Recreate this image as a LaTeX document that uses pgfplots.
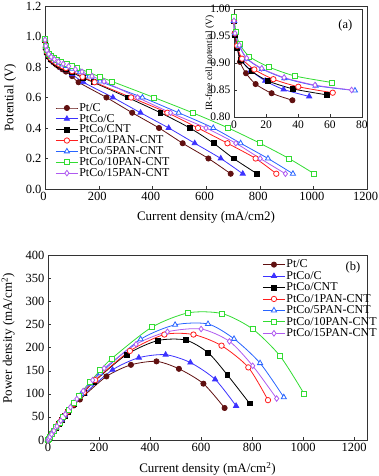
\documentclass[border=0pt]{standalone}
\usepackage{fontspec}
\setmainfont{Liberation Serif}
\usepackage{pgfplots}
\pgfplotsset{compat=1.18}

\definecolor{cPtC}{RGB}{96,16,16}
\definecolor{cPtCoC}{RGB}{60,50,255}
\definecolor{c1PAN}{RGB}{255,30,30}
\definecolor{c5PAN}{RGB}{40,100,255}
\definecolor{c10PAN}{RGB}{50,220,50}
\definecolor{c15PAN}{RGB}{175,90,240}

\pgfplotsset{
  base/.style={line width=0.8pt, smooth, tension=0.45},
  sPtC/.style={base, cPtC, mark=*, mark size=2.6pt, mark options={solid, fill=cPtC}},
  sPtCoC/.style={base, cPtCoC, mark=triangle*, mark size=3pt, mark options={solid, fill=cPtCoC}},
  sCNT/.style={base, black, mark=square*, mark size=2.4pt, mark options={solid, fill=black}},
  s1PAN/.style={base, c1PAN, mark=*, mark size=2.7pt, mark options={solid, fill=white}},
  s5PAN/.style={base, c5PAN, mark=triangle*, mark size=3pt, mark options={solid, fill=white}},
  s10PAN/.style={base, c10PAN, mark=square*, mark size=2.5pt, mark options={solid, fill=white}},
  s15PAN/.style={base, c15PAN, mark=diamond*, mark size=2.8pt, mark options={solid, fill=white}},
  frame/.style={
    scale only axis, clip=false,
    axis line style={black!80},
    tick align=inside, xtick pos=bottom, ytick pos=left,
    major tick length=3pt,
    tick style={black!80},
    label style={font=\fontsize{13}{15}\selectfont},
    tick label style={font=\fontsize{12.5}{14}\selectfont},
    /pgf/number format/assume math mode=true,
    /pgf/number format/1000 sep={},
    legend image code/.code={\draw[mark repeat=2,mark phase=2,#1] plot coordinates {(0pt,0pt) (11pt,0pt) (22pt,0pt)};},
  },
}

\begin{document}
\begin{tikzpicture}
\path[use as bounding box] (0,0) rectangle (378pt,476pt);

% (a) polarisation curves
\begin{axis}[frame,
  at={(45pt,287pt)}, anchor=south west,
  width=322pt, height=183pt,
  xmin=0, xmax=1200, ymin=0, ymax=1.2,
  xtick={0,200,...,1200}, ytick={0,0.2,...,1.2},
  xticklabel style={xshift=-1.5pt},
  yticklabel style={/pgf/number format/.cd, fixed, fixed zerofill, precision=1},
  xlabel={Current density (mA/cm2)},
  ylabel={Potential (V)},
  xlabel style={at={(axis description cs:0.5,-0.155)}, anchor=center},
  ylabel style={at={(axis description cs:-0.108,0.5)}, anchor=center},
  legend cell align=left,
  legend style={draw=none, fill=none, at={(axis description cs:0.032,0.475)}, anchor=north west,
    font=\fontsize{12}{14}\selectfont, inner sep=0pt, row sep=-0.6pt, nodes={inner sep=1pt}},
]
\addplot[sPtC] coordinates {(0,0.975) (3,0.92) (7,0.89) (14,0.865) (22,0.845) (32,0.83) (42,0.815) (53,0.80) (65,0.785) (78,0.77) (101,0.74) (125,0.70) (229,0.60) (325,0.50) (425,0.40) (513,0.30) (609,0.20) (692,0.10)};
\addlegendentry{Pt/C}
\addplot[sPtCoC] coordinates {(0,0.975) (3,0.925) (7,0.895) (14,0.87) (22,0.85) (32,0.835) (42,0.82) (53,0.806) (65,0.792) (78,0.778) (101,0.752) (143,0.70) (253,0.60) (356,0.50) (461,0.40) (558,0.30) (655,0.20) (737,0.10)};
\addlegendentry{PtCo/C}
\addplot[sCNT] coordinates {(0,0.975) (3,0.928) (7,0.898) (14,0.873) (22,0.853) (32,0.838) (42,0.824) (53,0.811) (65,0.798) (78,0.786) (101,0.765) (140,0.73) (180,0.70) (308,0.60) (430,0.50) (540,0.40) (628,0.30) (703,0.20) (790,0.10)};
\addlegendentry{PtCo/CNT}
\addplot[s1PAN] coordinates {(0,0.975) (3,0.93) (7,0.90) (14,0.876) (22,0.857) (32,0.842) (42,0.829) (53,0.817) (65,0.805) (78,0.793) (101,0.773) (140,0.735) (185,0.70) (321,0.60) (456,0.50) (570,0.40) (680,0.30) (785,0.20) (862,0.10)};
\addlegendentry{PtCo/1PAN-CNT}
\addplot[s5PAN] coordinates {(0,0.978) (3,0.936) (7,0.907) (14,0.882) (22,0.865) (32,0.851) (42,0.839) (53,0.828) (65,0.817) (78,0.806) (101,0.788) (130,0.765) (165,0.738) (205,0.705) (363,0.60) (498,0.50) (627,0.40) (729,0.30) (831,0.20) (924,0.10)};
\addlegendentry{PtCo/5PAN-CNT}
\addplot[s10PAN] coordinates {(0,0.985) (3,0.94) (7,0.912) (14,0.888) (22,0.87) (32,0.857) (45,0.845) (60,0.833) (80,0.82) (100,0.81) (120,0.795) (163,0.765) (205,0.735) (250,0.705) (406,0.60) (550,0.50) (683,0.40) (801,0.30) (909,0.20) (1003,0.10)};
\addlegendentry{PtCo/10PAN-CNT}
\addplot[s15PAN] coordinates {(0,0.978) (3,0.938) (7,0.91) (14,0.885) (23,0.866) (35,0.85) (50,0.835) (68,0.82) (88,0.805) (113,0.785) (138,0.768) (175,0.74) (220,0.705) (345,0.60) (468,0.50) (600,0.40) (711,0.30) (802,0.20) (896,0.10)};
\addlegendentry{PtCo/15PAN-CNT}
\end{axis}

% inset: IR-free cell potential
\begin{axis}[frame,
  at={(234pt,359pt)}, anchor=south west,
  width=128pt, height=108pt,
  axis background/.style={fill=white},
  xmin=0, xmax=80, ymin=0.8, ymax=1.0,
  xtick={0,20,...,80}, ytick={0.80,0.85,0.90,0.95,1.00},
  tick label style={font=\fontsize{11.5}{13}\selectfont},
  yticklabel style={/pgf/number format/.cd, fixed, fixed zerofill, precision=2},
  ylabel={IR-free cell potential (V)},
  ylabel style={font=\fontsize{9.5}{11}\selectfont, at={(axis description cs:-0.19,0.5)}, anchor=center},
]
\addplot[sPtC] coordinates {(0,0.978) (0.4,0.955) (2,0.93) (3.75,0.902) (7.5,0.881) (13.5,0.861) (23.5,0.844) (36.5,0.831)};
\addplot[sPtCoC] coordinates {(0,0.978) (0.5,0.953) (2,0.928) (4.8,0.904) (10.5,0.886) (19.5,0.867) (31,0.851) (47,0.838)};
\addplot[sCNT] coordinates {(0,0.978) (0.5,0.952) (2,0.928) (4.5,0.905) (11,0.885) (21,0.867) (37,0.852) (58,0.841)};
\addplot[s1PAN] coordinates {(0,0.978) (0.6,0.955) (2,0.932) (5,0.908) (12.7,0.888) (24.6,0.870) (40.2,0.856) (61.7,0.845)};
\addplot[s5PAN] coordinates {(0,0.978) (0.6,0.955) (3.3,0.932) (8,0.908) (17.5,0.889) (31.5,0.872) (51,0.858) (75.6,0.849)};
\addplot[s10PAN] coordinates {(0,0.985) (1.2,0.958) (3.5,0.935) (9.6,0.912) (21.5,0.893) (38,0.876) (61,0.864)};
\addplot[s15PAN] coordinates {(0,0.978) (0.6,0.955) (3.3,0.933) (7.9,0.909) (17.3,0.890) (31.3,0.873) (50.6,0.859) (73.5,0.850)};
\node[font=\fontsize{12.5}{14}\selectfont] at (axis description cs:0.87,0.85) {(a)};
\end{axis}

% (b) power density
\begin{axis}[frame,
  at={(48pt,36pt)}, anchor=south west,
  width=319pt, height=185pt,
  xmin=0, xmax=1250, ymin=0, ymax=400,
  xtick={0,200,...,1200}, ytick={0,50,...,400},
  xlabel={Current density (mA/cm\textsuperscript{2})},
  ylabel={Power density (mA/cm\textsuperscript{2})},
  xlabel style={at={(axis description cs:0.5,-0.157)}, anchor=center},
  ylabel style={at={(axis description cs:-0.125,0.55)}, anchor=center},
  legend cell align=left,
  legend style={draw=none, fill=none, at={(axis description cs:0.672,0.98)}, anchor=north west,
    font=\fontsize{12}{14}\selectfont, inner sep=0pt, row sep=0pt, nodes={inner sep=1pt}},
]
\addplot[sPtC] coordinates {(0,0) (3,2.76) (7,6.23) (14,12.11) (22,18.59) (32,26.56) (42,34.23) (53,42.4) (65,51.03) (78,60.06) (101,74.74) (125,87.5) (229,137.4) (325,162.5) (425,170) (513,153.9) (609,121.8) (692,69.2)};
\addlegendentry{Pt/C}
\addplot[sPtCoC] coordinates {(0,0) (3,2.78) (7,6.27) (14,12.18) (22,18.7) (32,26.72) (42,34.44) (53,42.72) (65,51.48) (78,60.68) (101,75.95) (143,100.1) (253,151.8) (356,178) (461,184.4) (558,167.4) (655,131) (737,73.7)};
\addlegendentry{PtCo/C}
\addplot[sCNT] coordinates {(0,0) (3,2.78) (7,6.29) (14,12.22) (22,18.77) (32,26.82) (42,34.61) (53,42.98) (65,51.87) (78,61.31) (101,77.27) (140,102.2) (180,126) (308,184.8) (430,215) (540,216) (628,188.4) (703,140.6) (790,79)};
\addlegendentry{PtCo/CNT}
\addplot[s1PAN] coordinates {(0,0) (3,2.79) (7,6.3) (14,12.26) (22,18.85) (32,26.94) (42,34.82) (53,43.3) (65,52.33) (78,61.85) (101,78.07) (140,102.9) (185,129.5) (321,192.6) (456,228) (570,228) (680,204) (785,157) (862,86.2)};
\addlegendentry{PtCo/1PAN-CNT}
\addplot[s5PAN] coordinates {(0,0) (3,2.81) (7,6.35) (14,12.35) (22,19.03) (32,27.23) (42,35.24) (53,43.88) (65,53.11) (78,62.87) (101,79.59) (130,99.45) (165,121.8) (205,144.5) (363,217.8) (498,249) (627,250.8) (729,218.7) (831,166.2) (924,92.4)};
\addlegendentry{PtCo/5PAN-CNT}
\addplot[s10PAN] coordinates {(0,0) (3,2.82) (7,6.38) (14,12.43) (22,19.14) (32,27.42) (45,38.03) (60,49.98) (80,65.6) (100,81) (120,95.4) (163,124.7) (205,150.7) (250,176.3) (406,243.6) (550,275) (683,273.2) (801,240.3) (909,181.8) (1003,100.3)};
\addlegendentry{PtCo/10PAN-CNT}
\addplot[s15PAN] coordinates {(0,0) (3,2.81) (7,6.37) (14,12.39) (23,19.92) (35,29.75) (50,41.75) (68,55.76) (88,70.84) (113,88.7) (138,106) (175,129.5) (220,155.1) (345,207) (468,234) (600,240) (711,213.3) (802,160.4) (896,89.6)};
\addlegendentry{PtCo/15PAN-CNT}
\node[font=\fontsize{12.5}{14}\selectfont] at (axis description cs:0.956,0.935) {(b)};
\end{axis}
\end{tikzpicture}
\end{document}
